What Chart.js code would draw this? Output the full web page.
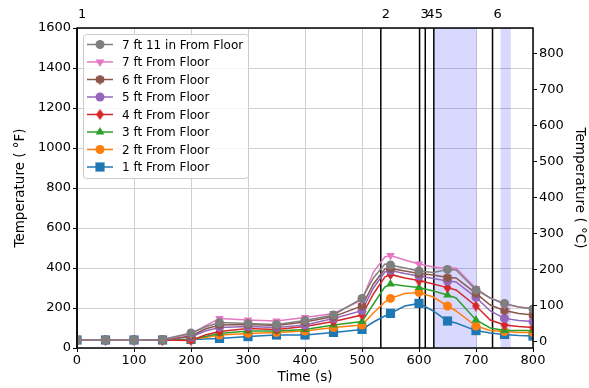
<!DOCTYPE html>
<html>
<head>
<meta charset="utf-8">
<script src="https://cdn.jsdelivr.net/npm/chart.js@4"></script>
<style>
  html, body { margin: 0; padding: 0; background: #fff; }
  #wrap { width: 589px; height: 388px; }
</style>
</head>
<body>
<div id="wrap"><canvas id="myChart" width="589" height="388"></canvas></div>
<script>
/* ---------------- data ---------------- */
const times = [0, 50, 100, 150, 200, 225, 250, 300, 350, 400, 450, 500, 520, 540, 550, 575, 600, 625, 650, 665, 700, 725, 750, 775, 800];

const temp7ft11in = [40, 40, 40, 42, 75, 105, 127, 123, 118, 137, 165, 248, 350, 420, 415, 400, 385, 378, 393, 390, 290, 250, 223, 205, 195];
const temp7ft     = [40, 40, 40, 42, 70, 110, 148, 140, 135, 153, 173, 240, 380, 455, 462, 440, 420, 405, 398, 400, 298, 250, 218, 205, 198];
const temp6ft     = [40, 40, 40, 41, 60, 95, 115, 118, 112, 130, 157, 210, 320, 395, 398, 385, 373, 365, 352, 350, 273, 215, 187, 172, 165];
const temp5ft     = [40, 40, 40, 41, 55, 85, 103, 107, 103, 115, 148, 187, 300, 380, 387, 372, 360, 348, 335, 330, 253, 185, 148, 138, 132];
const temp4ft     = [40, 40, 40, 40, 38, 65, 82, 98, 93, 107, 132, 165, 270, 355, 368, 350, 337, 320, 302, 290, 210, 140, 115, 108, 103];
const temp3ft     = [40, 40, 40, 40, 42, 58, 73, 85, 85, 93, 115, 132, 220, 305, 320, 310, 303, 285, 265, 250, 140, 100, 87, 88, 87];
const temp2ft     = [40, 40, 40, 40, 42, 52, 65, 73, 77, 85, 102, 115, 175, 230, 248, 272, 278, 255, 210, 185, 110, 88, 82, 78, 77];
const temp1ft     = [40, 40, 40, 40, 43, 45, 48, 57, 65, 65, 78, 93, 130, 160, 173, 210, 223, 185, 135, 125, 87, 75, 68, 63, 60];

const seriesLabels = ['7 ft 11 in From Floor', '7 ft From Floor', '6 ft From Floor', '5 ft From Floor',
                      '4 ft From Floor', '3 ft From Floor', '2 ft From Floor', '1 ft From Floor'];

const eventTimes  = [0, 533, 601, 611, 626, 729];
const eventLabels = ['1', '2', '3', '4', '5', '6'];
const shadedSpans = [[626, 701], [743, 761]];

const xTicks = [0, 100, 200, 300, 400, 500, 600, 700, 800];
const fTicks = [0, 200, 400, 600, 800, 1000, 1200, 1400, 1600];
const cTicks = [0, 100, 200, 300, 400, 500, 600, 700, 800];

/* ---------------- markers ---------------- */
// thin diamond like matplotlib 'd'
function thinDiamond(color) {
  const c = document.createElement('canvas');
  c.width = 9; c.height = 11;
  const g = c.getContext('2d');
  g.fillStyle = color;
  g.beginPath();
  g.moveTo(4.5, 0); g.lineTo(8.5, 5.5); g.lineTo(4.5, 11); g.lineTo(0.5, 5.5);
  g.closePath();
  g.fill();
  return c;
}
// hexagon for the 6 ft series
function hexagon(color) {
  const c = document.createElement('canvas');
  c.width = 10; c.height = 10;
  const g = c.getContext('2d');
  g.fillStyle = color;
  g.beginPath();
  for (let i = 0; i < 6; i++) {
    const a = Math.PI / 2 + i * Math.PI / 3;
    const px = 5 + 4.8 * Math.cos(a), py = 5 - 4.8 * Math.sin(a);
    if (i === 0) g.moveTo(px, py); else g.lineTo(px, py);
  }
  g.closePath();
  g.fill();
  return c;
}

const styles = [
  { color: '#7f7f7f', marker: 'circle',   r: 4.5, rot: 0 },
  { color: '#e377c2', marker: 'triangle', r: 5,   rot: 180 },
  { color: '#8c564b', marker: hexagon('#8c564b'), r: 4.5, rot: 0 },
  { color: '#9467bd', marker: 'circle',   r: 4.5, rot: 0 },
  { color: '#d62728', marker: thinDiamond('#d62728'), r: 4.5, rot: 0 },
  { color: '#2ca02c', marker: 'triangle', r: 5,   rot: 0 },
  { color: '#ff7f0e', marker: 'circle',   r: 4.5, rot: 0 },
  { color: '#1f77b4', marker: 'rect',     r: 6.5, rot: 0 }
];
const allSeries = [temp7ft11in, temp7ft, temp6ft, temp5ft, temp4ft, temp3ft, temp2ft, temp1ft];

const f2c = f => (f - 32) / 1.8;

Chart.defaults.font.family = 'DejaVu Sans';
Chart.defaults.color = '#000';

const datasets = allSeries.map((vals, k) => ({
  label: seriesLabels[k],
  data: times.map((t, i) => ({ x: t, y: vals[i] })),
  borderColor: styles[k].color,
  backgroundColor: styles[k].color,
  borderWidth: 1.5,
  tension: 0,
  pointStyle: styles[k].marker,
  rotation: styles[k].rot,
  pointBorderWidth: 0,
  pointRadius: ctx => (times[ctx.dataIndex] % 50 === 0 ? styles[k].r : 0),
  pointHoverRadius: 0,
  yAxisID: 'y'
}));

function fixSize(w, h) {
  return axis => {
    if (w !== null) axis.width = w;
    if (h !== null) axis.height = h;
  };
}
const plain = v => String(v);

/* ---------------- overlay: spans, event lines, frame, legend ---------------- */
const overlay = {
  id: 'overlay',
  beforeDatasetsDraw(chart) {
    const { ctx, chartArea: a, scales: { x } } = chart;
    ctx.save();
    ctx.fillStyle = 'rgba(0, 0, 255, 0.15)';
    shadedSpans.forEach(([s, e]) => {
      const x1 = x.getPixelForValue(s), x2 = x.getPixelForValue(e);
      ctx.fillRect(x1, a.top, x2 - x1, a.bottom - a.top);
    });
    ctx.strokeStyle = '#000';
    ctx.lineWidth = 1.5;
    eventTimes.forEach(t => {
      const px = x.getPixelForValue(t);
      ctx.beginPath();
      ctx.moveTo(px, a.top);
      ctx.lineTo(px, a.bottom);
      ctx.stroke();
    });
    ctx.restore();
  },
  afterDatasetsDraw(chart) {
    const { ctx, chartArea: a, scales: { x } } = chart;
    ctx.save();
    // frame
    ctx.strokeStyle = '#000';
    ctx.lineWidth = 1.5;
    ctx.strokeRect(a.left, a.top, a.right - a.left, a.bottom - a.top);
    // event labels
    ctx.fillStyle = '#000';
    ctx.font = '13px "DejaVu Sans"';
    ctx.textAlign = 'left';
    ctx.textBaseline = 'alphabetic';
    eventTimes.forEach((t, i) => {
      ctx.fillText(eventLabels[i], x.getPixelForValue(t) + 1, a.top - 10);
    });
    // legend
    const lx = 83, ly = 34, lw = 165, lh = 144;
    ctx.fillStyle = 'rgba(255,255,255,0.8)';
    ctx.strokeStyle = '#cccccc';
    ctx.lineWidth = 1;
    ctx.beginPath();
    ctx.roundRect(lx + 0.5, ly + 0.5, lw, lh, 3);
    ctx.fill();
    ctx.stroke();
    ctx.font = '12px "DejaVu Sans"';
    ctx.textBaseline = 'middle';
    seriesLabels.forEach((lab, k) => {
      const yy = 44.5 + k * 17.5;
      ctx.strokeStyle = styles[k].color;
      ctx.lineWidth = 1.5;
      ctx.beginPath();
      ctx.moveTo(87, yy);
      ctx.lineTo(113, yy);
      ctx.stroke();
      ctx.fillStyle = styles[k].color;
      Chart.helpers.drawPoint(ctx, {
        pointStyle: styles[k].marker, rotation: styles[k].rot, radius: styles[k].r, borderWidth: 0
      }, 100, yy);
      ctx.fillStyle = '#000';
      ctx.fillText(lab, 122, yy + 1);
    });
    ctx.restore();
  }
};

const config = {
  type: 'line',
  data: { datasets: datasets },
  options: {
    responsive: false,
    animation: false,
    events: [],
    layout: { padding: { top: 28, left: 0, right: 0, bottom: 0 } },
    plugins: { legend: { display: false }, tooltip: { enabled: false } },
    scales: {
      x: {
        type: 'linear', min: 0, max: 800,
        afterBuildTicks: axis => { axis.ticks = xTicks.map(v => ({ value: v })); },
        afterFit: fixSize(null, 40),
        grid: { color: '#cfcfcf', lineWidth: 1, tickColor: '#000', tickLength: 4, tickWidth: 1 },
        border: { display: false },
        ticks: { font: { size: 13 }, padding: 1, maxRotation: 0, callback: plain },
        title: { display: true, text: 'Time (s)', font: { size: 13.5 }, padding: { top: 0, bottom: 2 } }
      },
      y: {
        type: 'linear', position: 'left', min: 0, max: 1600,
        afterBuildTicks: axis => { axis.ticks = fTicks.map(v => ({ value: v })); },
        afterFit: fixSize(77, null),
        grid: { color: '#cfcfcf', lineWidth: 1, tickColor: '#000', tickLength: 4, tickWidth: 1 },
        border: { display: false },
        ticks: { font: { size: 13 }, padding: 2, callback: plain },
        title: { display: true, text: 'Temperature ( \u00B0F)', font: { size: 13.5 }, padding: { top: 12, bottom: 0 } }
      },
      y2: {
        type: 'linear', position: 'right', min: f2c(0), max: f2c(1600),
        afterBuildTicks: axis => { axis.ticks = cTicks.map(v => ({ value: v })); },
        afterFit: fixSize(56, null),
        grid: { drawOnChartArea: false, tickColor: '#000', tickLength: 4, tickWidth: 1 },
        border: { display: false },
        ticks: { font: { size: 13 }, padding: 2, callback: plain },
        title: { display: true, text: 'Temperature ( \u00B0C)', font: { size: 13.5 }, padding: { top: 1, bottom: 0 } }
      }
    }
  },
  plugins: [overlay]
};

const myChart = new Chart(document.getElementById('myChart'), config);
</script>
</body>
</html>
